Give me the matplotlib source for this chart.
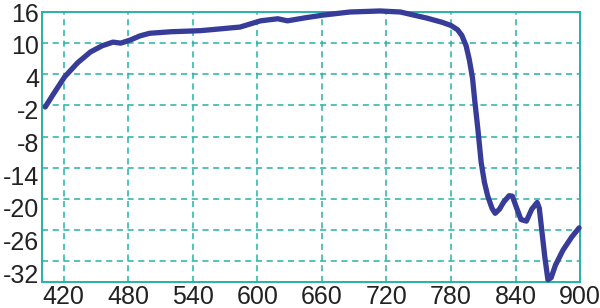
import matplotlib.pyplot as plt

plt.rcParams['font.family'] = ['Liberation Sans', 'DejaVu Sans']
plt.rcParams['axes.unicode_minus'] = False

# wavelength (nm) and value
wavelength = [403, 410, 421, 433, 445, 456, 466, 473, 482, 491, 500, 520, 547,
              584, 603, 619, 628, 645, 661, 686, 714, 733, 758, 772, 780, 786, 790,
              794, 797, 800, 802, 805, 808, 811, 814, 818, 821, 825, 829, 834, 837,
              841, 845, 850, 855, 860, 862, 864, 867, 870, 873, 877, 884, 892, 899]
value = [-2.3, 0.0, 3.5, 6.2, 8.3, 9.5, 10.2, 10.0, 10.6, 11.4, 11.9, 12.2, 12.4,
         13.1, 14.3, 14.7, 14.3, 14.9, 15.4, 16.0, 16.2, 16.0, 14.8, 14.0, 13.4, 12.6, 11.5,
         9.5, 6.8, 3.2, -1.0, -6.7, -13.0, -16.8, -19.4, -21.8, -22.8, -22.0, -20.6, -19.4, -19.5,
         -21.8, -24.0, -24.3, -22.0, -20.7, -21.8, -25.5, -31.0, -35.6, -35.2, -32.8, -29.9, -27.4, -25.6]

xticks = [420, 480, 540, 600, 660, 720, 780, 840, 900]
yticks = [16, 10, 4, -2, -8, -14, -20, -26, -32]

teal = '#27b2a6'

fig = plt.figure(figsize=(6, 3.08), dpi=100)
ax = fig.add_axes([0.07, 0.085, 0.897, 0.876])
ax.plot(wavelength, value, color='#373c98', lw=3.8,
        solid_capstyle='round', solid_joinstyle='round', zorder=3, clip_on=False)

ax.set_xlim(400, 900)
ax.set_ylim(-36, 16)
ax.set_xticks(xticks)
# grid on the real values; labels in the original sit on a slightly wider spacing
ax.set_yticks(yticks, minor=True)
ax.set_yticks([16 - (16 - v) * 1.048 for v in yticks], [str(v) for v in yticks])
ax.xaxis.grid(True, color=teal, ls=(0, (4, 3)), lw=1.1)
ax.yaxis.grid(True, which='minor', color=teal, ls=(0, (4, 3)), lw=1.1)
for s in ax.spines.values():
    s.set_color(teal)
    s.set_linewidth(1.4)
ax.tick_params(which='both', length=0, labelsize=18, colors='#222222', pad=2)

fig.savefig('out.png', dpi=100)
